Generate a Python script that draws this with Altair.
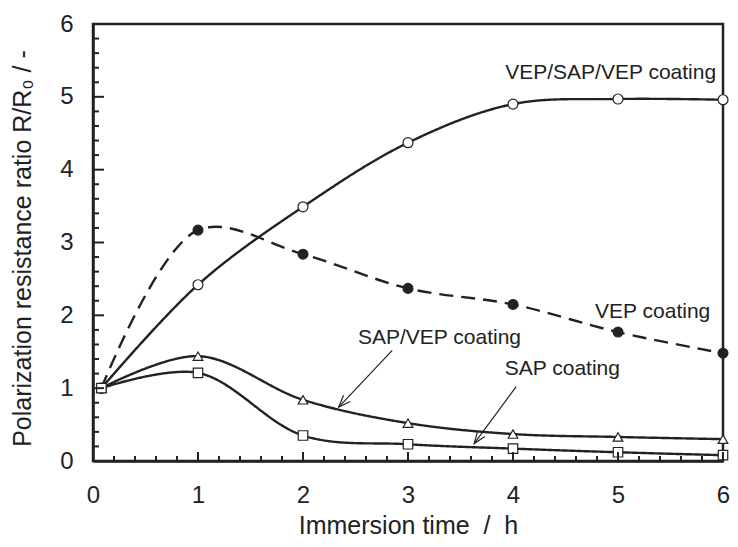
import math
import altair as alt
import pandas as pd

# ---------------- data ----------------
time_h = [0.08, 1, 2, 3, 4, 5, 6]
vep_sap_vep = [1.0, 2.42, 3.49, 4.37, 4.90, 4.97, 4.96]
vep = [1.0, 3.17, 2.84, 2.37, 2.15, 1.77, 1.48]
sap_vep = [1.0, 1.44, 0.84, 0.52, 0.37, 0.33, 0.30]
sap = [1.0, 1.21, 0.35, 0.23, 0.17, 0.12, 0.08]
series_names = ["VEP/SAP/VEP coating", "VEP coating", "SAP/VEP coating", "SAP coating"]

x_major = [0, 1, 2, 3, 4, 5, 6]
y_major = [0, 1, 2, 3, 4, 5, 6]
minor_ticks = [0.2, 0.4, 0.6, 0.8, 1.2, 1.4, 1.6, 1.8, 2.2, 2.4, 2.6, 2.8,
               3.2, 3.4, 3.6, 3.8, 4.2, 4.4, 4.6, 4.8, 5.2, 5.4, 5.6, 5.8]

label_text = ["VEP/SAP/VEP coating", "VEP coating", "SAP/VEP coating", "SAP coating"]
label_x = [4.93, 5.33, 3.30, 4.47]
label_y = [5.33, 2.04, 1.685, 1.27]

arrow_from_x = [2.85, 4.03]
arrow_from_y = [1.52, 1.02]
arrow_to_x = [2.34, 3.63]
arrow_to_y = [0.74, 0.24]

# ---------------- layout ----------------
W, H = 630, 437
FONT = "Liberation Sans"
INK = "#222222"

rows = []
for name, vals in zip(series_names, [vep_sap_vep, vep, sap_vep, sap]):
    for t, v in zip(time_h, vals):
        rows.append({"series": name, "t": t, "r": v})
df = pd.DataFrame(rows)

lab_df = pd.DataFrame({"text": label_text, "x": label_x, "y": label_y})

arr_rows = []
for sx, sy, tx, ty in zip(arrow_from_x, arrow_from_y, arrow_to_x, arrow_to_y):
    ang = math.degrees(math.atan2(-(ty - sy) * H / 6.0, (tx - sx) * W / 6.0)) % 360
    arr_rows.append({"sx": sx, "sy": sy, "tx": tx, "ty": ty, "ang": ang})
arr_df = pd.DataFrame(arr_rows)

major_df = pd.DataFrame({"tv": x_major})
minor_df = pd.DataFrame({"tv": minor_ticks})

xs = alt.Scale(domain=[0, 6], nice=False, zero=False)
ys = alt.Scale(domain=[0, 6], nice=False, zero=False)

x_axis = alt.Axis(values=x_major, title="Immersion time\u00a0\u00a0/\u00a0\u00a0h",
                  ticks=False, labelPadding=22, grid=False, format="d",
                  labelFlush=False, titleY=72, titleBaseline="alphabetic")
y_axis = alt.Axis(values=y_major, title="Polarization resistance ratio R/R\u2080 / -",
                  ticks=False, labelPadding=20, grid=False, format="d",
                  labelFlush=False, titleX=-71, titleY=224, titleBaseline="middle")

lines = alt.Chart(df).mark_line(interpolate="catmull-rom", strokeWidth=2.4, color=INK).encode(
    x=alt.X("t:Q", scale=xs, axis=x_axis),
    y=alt.Y("r:Q", scale=ys, axis=y_axis),
    detail="series:N",
    strokeDash=alt.StrokeDash("series:N", scale=alt.Scale(
        domain=series_names, range=[[1, 0], [14, 8], [1, 0], [1, 0]]), legend=None),
)

points = alt.Chart(df).mark_point(strokeWidth=1.2, opacity=1, color=INK, filled=False).encode(
    x=alt.X("t:Q", scale=xs),
    y=alt.Y("r:Q", scale=ys),
    shape=alt.Shape("series:N", scale=alt.Scale(
        domain=series_names, range=["circle", "circle", "triangle-up", "square"]), legend=None),
    fill=alt.Fill("series:N", scale=alt.Scale(
        domain=series_names, range=["white", INK, "white", "white"]), legend=None),
    size=alt.Size("series:N", scale=alt.Scale(
        domain=series_names, range=[100, 90, 90, 110]), legend=None),
)

# inward tick marks (major and minor) on bottom and left axes
xt_major = alt.Chart(major_df).mark_rule(color=INK, strokeWidth=2).encode(
    x=alt.X("tv:Q", scale=xs), y=alt.value(H), y2=alt.value(H - 9))
xt_minor = alt.Chart(minor_df).mark_rule(color=INK, strokeWidth=2).encode(
    x=alt.X("tv:Q", scale=xs), y=alt.value(H), y2=alt.value(H - 5))
yt_major = alt.Chart(major_df).mark_rule(color=INK, strokeWidth=2).encode(
    y=alt.Y("tv:Q", scale=ys), x=alt.value(0), x2=alt.value(11))
yt_minor = alt.Chart(minor_df).mark_rule(color=INK, strokeWidth=2).encode(
    y=alt.Y("tv:Q", scale=ys), x=alt.value(0), x2=alt.value(6))

labels = alt.Chart(lab_df).mark_text(fontSize=21, font=FONT, color=INK,
                                       align="center", baseline="middle").encode(
    x=alt.X("x:Q", scale=xs),
    y=alt.Y("y:Q", scale=ys),
    text="text:N",
)

shafts = alt.Chart(arr_df).mark_rule(strokeWidth=1.2, color=INK).encode(
    x=alt.X("sx:Q", scale=xs),
    y=alt.Y("sy:Q", scale=ys),
    x2="tx:Q",
    y2="ty:Q",
)

heads = alt.Chart(arr_df).mark_point(shape="M-1,-0.38L0,0L-1,0.38", filled=False,
                                     strokeWidth=1.2, color=INK, size=576, opacity=1).encode(
    x=alt.X("tx:Q", scale=xs),
    y=alt.Y("ty:Q", scale=ys),
    angle=alt.Angle("ang:Q", scale=None),
)

chart = alt.layer(
    lines, points, shafts, heads, labels, xt_minor, xt_major, yt_minor, yt_major
).properties(
    width=W, height=H, autosize="none",
    padding={"left": 85, "top": 16, "right": 7, "bottom": 77},
).configure_view(
    stroke=INK, strokeWidth=2.5
).configure_axis(
    domainColor=INK, domainWidth=2.5,
    labelFont=FONT, titleFont=FONT, labelFontSize=24, titleFontSize=25,
    labelColor=INK, titleColor=INK, titleFontWeight="normal",
)

chart.save("out.html", embed_options={"renderer": "svg", "actions": False})
